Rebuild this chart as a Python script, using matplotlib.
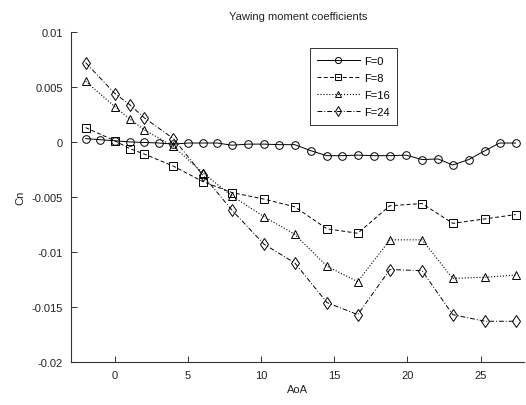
import matplotlib
matplotlib.use("Agg")
import matplotlib.pyplot as plt

plt.rcParams['font.family'] = ['Liberation Sans', 'DejaVu Sans']

# AoA values (deg)
aoa_f0 = [-2, -1, 0, 1, 2, 3, 4, 5, 6, 7, 8, 9.1, 10.2, 11.2, 12.3, 13.4, 14.5, 15.5,
          16.6, 17.7, 18.8, 19.9, 21, 22.1, 23.1, 24.2, 25.3, 26.3, 27.4]
cn_f0 = [0.0003, 0.0002, 0.0001, 0.0, -0.00005, -0.0001, -0.0002, -0.0001, -0.0001, -0.0001,
         -0.0003, -0.0002, -0.0002, -0.00025, -0.00025, -0.0008, -0.00125, -0.00125,
         -0.0012, -0.00125, -0.00125, -0.0012, -0.0016, -0.00155, -0.0021, -0.0016,
         -0.0008, -0.0001, -0.0001]

aoa_f = [-2, 0, 1, 2, 4, 6, 8, 10.2, 12.3, 14.5, 16.6, 18.8, 21, 23.1, 25.3, 27.4]
cn_f8 = [0.0013, 0.0001, -0.0006, -0.0011, -0.0022, -0.0036, -0.0046, -0.0052, -0.0059,
         -0.0079, -0.0083, -0.0058, -0.0056, -0.0074, -0.0070, -0.0066]
cn_f16 = [0.0055, 0.0032, 0.0021, 0.0011, -0.0004, -0.0028, -0.0049, -0.0068, -0.0084,
          -0.0113, -0.0127, -0.0089, -0.0089, -0.0124, -0.0123, -0.0121]
cn_f24 = [0.0072, 0.0044, 0.0034, 0.0022, 0.0003, -0.0030, -0.0062, -0.0093, -0.0110,
          -0.0146, -0.0157, -0.0116, -0.0117, -0.0157, -0.0163, -0.0163]

labels = ['F=0', 'F=8', 'F=16', 'F=24']
xticks = [0, 5, 10, 15, 20, 25]
yticks = [-0.02, -0.015, -0.01, -0.005, 0, 0.005, 0.01]

fig = plt.figure(figsize=(5.26, 4.06), dpi=100)
ax = fig.add_axes([0.135, 0.106, 0.862, 0.813])

lc = '#000000'
ms = 5.5
ax.plot(aoa_f0, cn_f0, '-', color=lc, lw=0.7, marker='o', ms=ms, mfc='none', mec=lc, mew=0.7, label=labels[0])
ax.plot(aoa_f, cn_f8, '--', color=lc, lw=0.7, marker='s', ms=ms, mfc='none', mec=lc, mew=0.7, label=labels[1], dashes=(4, 2.5))
ax.plot(aoa_f, cn_f16, ':', color=lc, lw=0.8, marker='^', ms=ms + 0.5, mfc='none', mec=lc, mew=0.7, label=labels[2])
ax.plot(aoa_f, cn_f24, '-.', color=lc, lw=0.7, marker='d', ms=ms + 0.5, mfc='none', mec=lc, mew=0.7, label=labels[3], dashes=(5, 2, 1, 2))

ax.set_xlim(-3, 28)
ax.set_ylim(-0.02, 0.01)
ax.set_xticks(xticks)
ax.set_xticklabels(['%g' % t for t in xticks])
ax.set_yticks(yticks)
ax.set_yticklabels(['%g' % t for t in yticks])

for s in ['top', 'right']:
    ax.spines[s].set_visible(False)
for s in ['left', 'bottom']:
    ax.spines[s].set_color('#333333')
    ax.spines[s].set_linewidth(0.8)

ax.tick_params(direction='in', length=4, width=0.7, colors='#333333', labelsize=8, labelcolor='#222222', pad=6)

ax.set_title('Yawing moment coefficients', fontsize=8, color='#222222', pad=9)
ax.set_xlabel('AoA', fontsize=8, color='#222222', labelpad=3)
ax.set_ylabel('Cn', fontsize=8, color='#222222', labelpad=4)

leg = ax.legend(loc='upper left', bbox_to_anchor=(0.526, 0.952), fontsize=8, frameon=True,
                fancybox=False, edgecolor='#000000', handlelength=3.8, handletextpad=0.4,
                borderpad=0.7, labelspacing=0.65, borderaxespad=0, markerscale=0.8)
leg.get_frame().set_linewidth(0.7)

fig.savefig('out.png', dpi=100, facecolor='white')
